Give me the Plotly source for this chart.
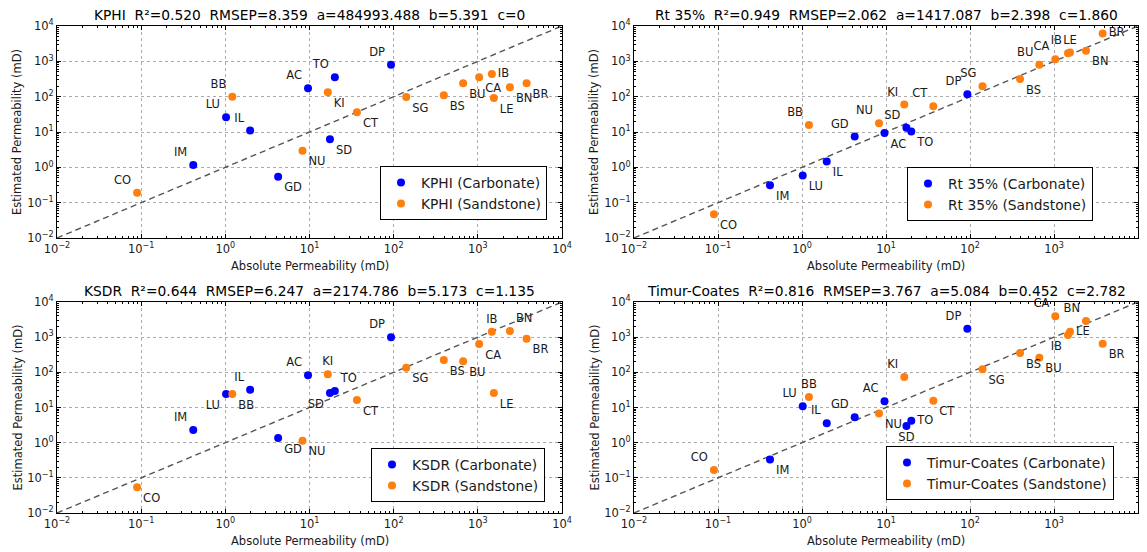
import plotly.graph_objects as go

# Core samples, split by lithology
carbonate = ["AC", "DP", "GD", "IL", "IM", "LU", "SD", "TO"]
sandstone = ["BB", "BN", "BR", "BS", "BU", "CA", "CO", "CT", "IB", "KI", "LE", "NU", "SG"]

# Measured (absolute) permeability, mD
k_abs_carb = [9.6, 93, 4.24, 1.97, 0.416, 1.02, 17.5, 20.0]
k_abs_sand = [1.21, 2405, 3796, 394, 669, 1037, 0.0895, 36.6, 1468, 16.5, 1550, 8.26, 141]

# Estimated permeability from each model, mD
kphi_carb = [172, 805, 0.545, 11.1, 1.16, 26, 6.2, 352]
kphi_sand = [100, 184, 238, 109, 238, 352, 0.19, 36, 438, 133, 92, 2.96, 98]

rt35_carb = [9.35, 117, 7.4, 1.47, 0.31, 0.59, 13.2, 10.4]
rt35_sand = [15.8, 1986, 6166, 318, 795, 1150, 0.047, 53.5, 1706, 59.6, 1780, 17.6, 197]

ksdr_carb = [82, 989, 1.36, 32, 2.29, 24.2, 25.8, 29.4]
ksdr_sand = [24.2, 1496, 906, 224, 206, 640, 0.054, 16.3, 1432, 88, 25.8, 1.14, 136]

timur_carb = [15.0, 1745, 5.25, 3.55, 0.33, 10.8, 2.98, 4.2]
timur_sand = [19.9, 2884, 653, 355, 261, 3910, 0.167, 15.6, 1153, 73.7, 1432, 6.8, 122]

# Fit statistics per model
model_names = ["KPHI", "Rt 35%", "KSDR", "Timur-Coates"]
r2 = ["0.520", "0.949", "0.644", "0.816"]
rmsep = ["8.359", "2.062", "6.247", "3.767"]
coef_a = ["484993.488", "1417.087", "2174.786", "5.084"]
coef_b = ["5.391", "2.398", "5.173", "0.452"]
coef_c = ["0", "1.860", "1.135", "2.782"]

# Axis decades
tick_exponents = [-2, -1, 0, 1, 2, 3, 4]

est_carb = [kphi_carb, rt35_carb, ksdr_carb, timur_carb]
est_sand = [kphi_sand, rt35_sand, ksdr_sand, timur_sand]

# Label placement per panel (sample -> text position)
TL, TR, TC = "top left", "top right", "top center"
BL, BR_, BC = "bottom left", "bottom right", "bottom center"
MR = "middle right"
label_pos = [
    dict(AC=TL, DP=TL, GD=BR_, IL=TL, IM=TL, LU=TL, SD=BR_, TO=TL,
         BB=TL, BN=BR_, BR=BR_, BS=BR_, BU=BR_, CA=BR_, CO=TL, CT=BR_, IB=MR,
         KI=BR_, LE=BR_, NU=BR_, SG=BR_),
    dict(AC=BR_, DP=TL, GD=TL, IL=BR_, IM=BR_, LU=BR_, SD=TL, TO=BR_,
         BB=TL, BN=BR_, BR=MR, BS=BR_, BU=TL, CA=TL, CO=BR_, CT=TL, IB=TL,
         KI=TL, LE=TC, NU=TL, SG=TL),
    dict(AC=TL, DP=TL, GD=BR_, IL=TL, IM=TL, LU=BL, SD=BL, TO=TR,
         BB=BR_, BN=TR, BR=BR_, BS=BR_, BU=BR_, CA=BR_, CO=BR_, CT=BR_, IB=TC,
         KI=TC, LE=BR_, NU=BR_, SG=BR_),
    dict(AC=TL, DP=TL, GD=TL, IL=TL, IM=BR_, LU=TL, SD=BC, TO=MR,
         BB=TC, BN=TL, BR=BR_, BS=BR_, BU=BR_, CA=TL, CO=TL, CT=BR_, IB=BL,
         KI=TL, LE=MR, NU=BR_, SG=BR_),
]

W, H = 1147, 552
# Panel plot areas in pixels: (left, right, top, bottom)
panels_px = [(57, 562, 26, 238), (634, 1138, 26, 238),
             (57, 562, 302, 513), (634, 1138, 302, 513)]
# Legend anchor (right, bottom) in pixels
legend_px = [(547, 220), (1093, 221), (545, 502), (1114, 500)]

BLUE = "#0000ff"
ORANGE = "#ff7f0e"
FONT = "DejaVu Sans"
TXT = "#1a1a1a"

fig = go.Figure()
layout = dict(
    width=W, height=H, margin=dict(l=0, r=0, t=0, b=0, pad=0, autoexpand=False),
    paper_bgcolor="white", plot_bgcolor="white",
    font=dict(family=FONT, size=11.5, color=TXT),
    showlegend=True,
)

tickvals = [10.0 ** e for e in tick_exponents]
ticktext = ["10<sup>%s</sup>" % (str(e).replace("-", "\u2212")) for e in tick_exponents]
minor_vals = [m * 10.0 ** e for e in tick_exponents[:-1] for m in range(2, 10)]

annotations = []
for i in range(4):
    sfx = "" if i == 0 else str(i + 1)
    xa, ya = "x" + sfx, "y" + sfx
    leg = "legend" + sfx
    l, r, t, b = panels_px[i]
    pos = label_pos[i]

    # 1:1 reference line across the full axis range
    fig.add_trace(go.Scatter(
        x=[tickvals[0], tickvals[-1]], y=[tickvals[0], tickvals[-1]],
        mode="lines", line=dict(color="#555555", width=1.4, dash="6px,4px"),
        xaxis=xa, yaxis=ya, showlegend=False, hoverinfo="skip"))

    for names, xs, ys, col, lith in [
        (carbonate, k_abs_carb, est_carb[i], BLUE, "Carbonate"),
        (sandstone, k_abs_sand, est_sand[i], ORANGE, "Sandstone"),
    ]:
        fig.add_trace(go.Scatter(
            x=xs, y=ys, mode="markers+text", text=names,
            textposition=[pos[n] for n in names],
            textfont=dict(family=FONT, size=11.5, color=TXT),
            marker=dict(color=col, size=8, line=dict(width=0)),
            name="%s (%s)" % (model_names[i], lith),
            xaxis=xa, yaxis=ya, legend=leg, cliponaxis=False))

    axis_common = dict(
        type="log", range=[-2, 4], tickmode="array", tickvals=tickvals, ticktext=ticktext,
        ticks="inside", ticklen=4, tickwidth=1, tickcolor="black",
        showline=True, linecolor="black", linewidth=1, mirror="allticks",
        showgrid=True, gridcolor="#ababab", griddash="dot", gridwidth=1,
        zeroline=False, automargin=False,
        tickfont=dict(family=FONT, size=11.5, color=TXT),
        minor=dict(tickmode="array", tickvals=minor_vals, ticks="inside",
                   ticklen=2, tickcolor="black", showgrid=False),
    )
    layout["xaxis" + sfx] = dict(axis_common, domain=[l / W, r / W], anchor=ya)
    layout["yaxis" + sfx] = dict(axis_common, domain=[1 - b / H, 1 - t / H], anchor=xa)

    lr, lb = legend_px[i]
    layout[leg] = dict(
        x=lr / W, y=1 - lb / H, xanchor="right", yanchor="bottom",
        bordercolor="black", borderwidth=1, bgcolor="white",
        font=dict(family=FONT, size=13.8, color=TXT), tracegroupgap=0,
        itemsizing="trace")

    title = "%s  R\u00b2=%s  RMSEP=%s  a=%s  b=%s  c=%s" % (
        model_names[i], r2[i], rmsep[i], coef_a[i], coef_b[i], coef_c[i])
    annotations.append(dict(
        text=title, xref="paper", yref="paper", x=(l + r) / 2 / W, y=1 - (t - 11) / H,
        xanchor="center", yanchor="middle", showarrow=False,
        font=dict(family=FONT, size=13.8, color="black")))
    annotations.append(dict(
        text="Absolute Permeability (mD)", xref="paper", yref="paper",
        x=(l + r) / 2 / W, y=1 - (b + 28) / H, xanchor="center", yanchor="middle",
        showarrow=False, font=dict(family=FONT, size=11.5, color=TXT)))
    annotations.append(dict(
        text="Estimated Permeability (mD)", xref="paper", yref="paper",
        x=(l - 40) / W, y=1 - (t + b) / 2 / H, xanchor="center", yanchor="middle",
        textangle=-90, showarrow=False, font=dict(family=FONT, size=11.5, color=TXT)))

layout["annotations"] = annotations
fig.update_layout(**layout)
fig.write_html("out.html")
